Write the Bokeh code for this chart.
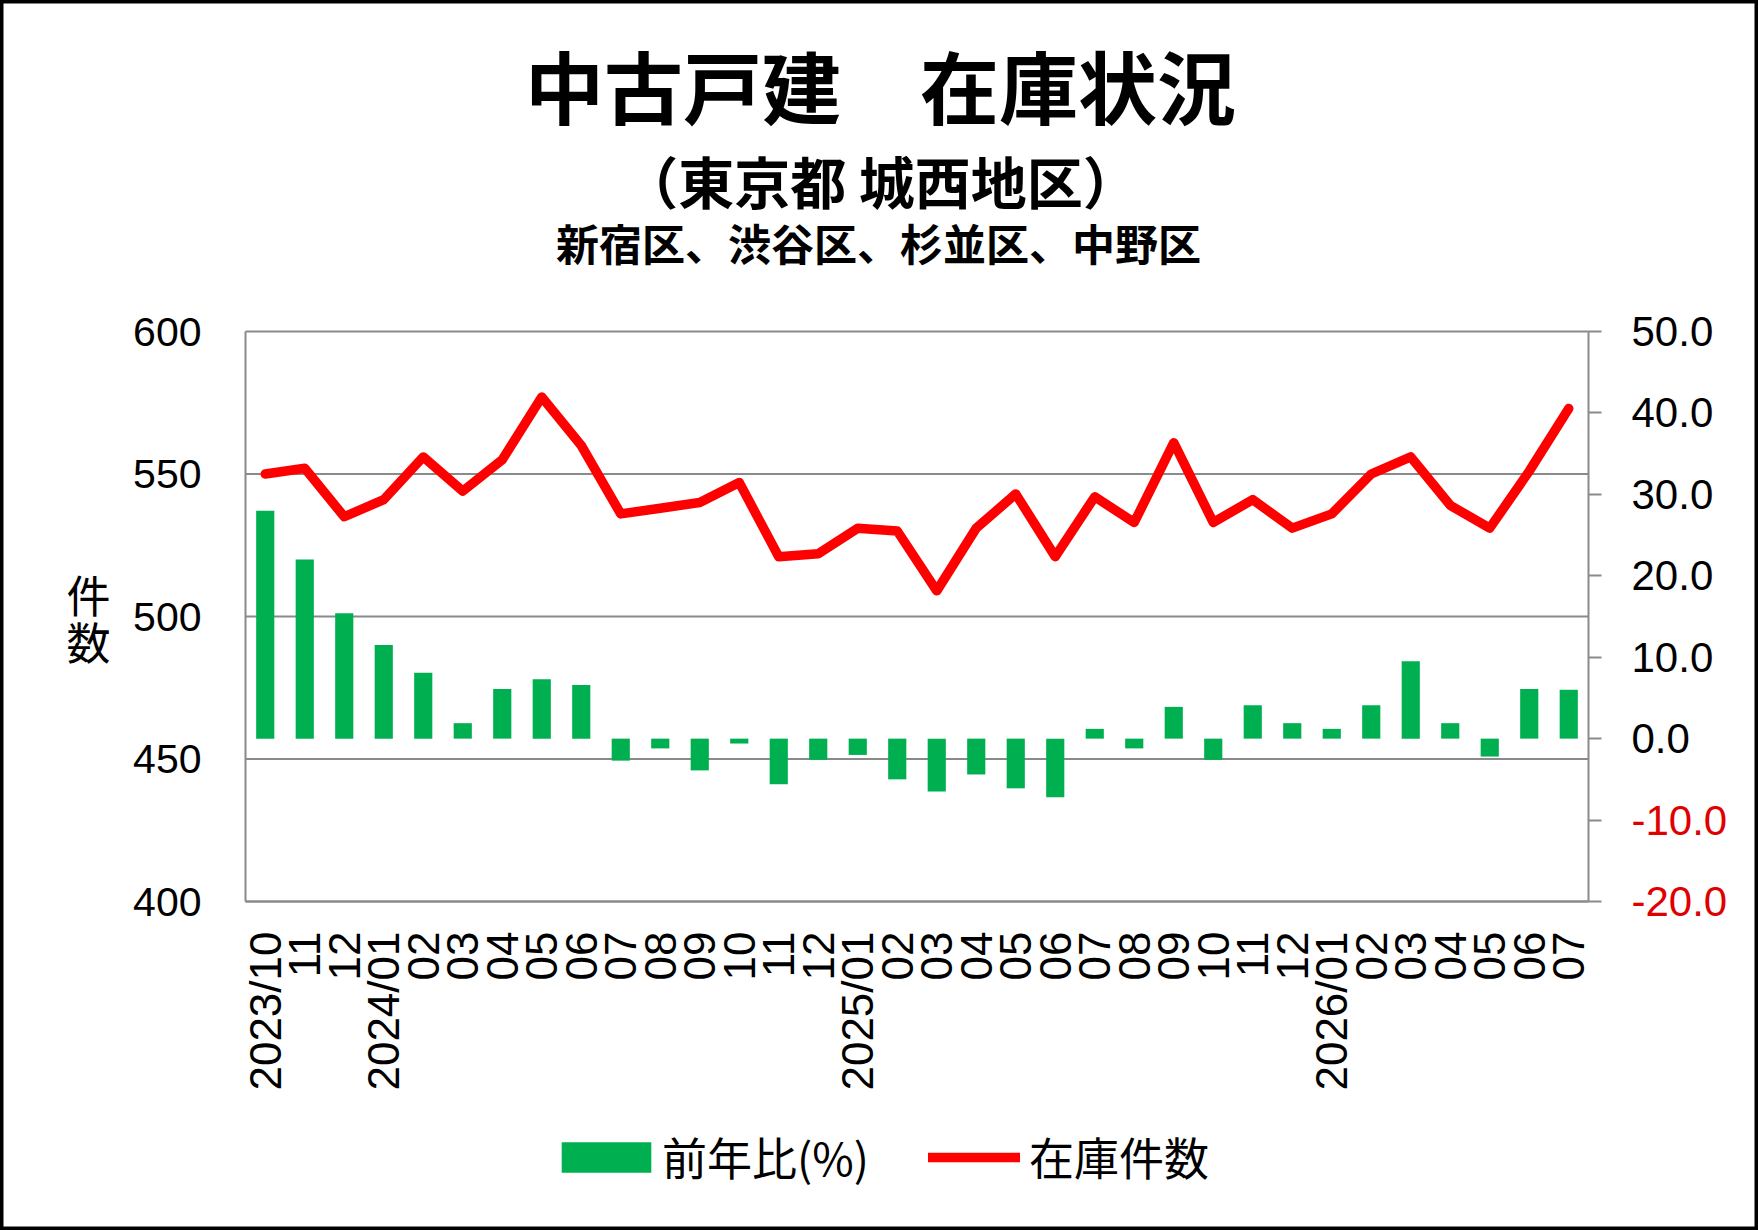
import math
from bokeh.plotting import figure
from bokeh.models import Range1d, LinearAxis, FixedTicker, Legend, LegendItem, Label
from bokeh.embed import file_html
from bokeh.resources import INLINE

# ---------------- data ----------------
months = ["2023/10", "11", "12",
          "2024/01", "02", "03", "04", "05", "06", "07", "08", "09", "10", "11", "12",
          "2025/01", "02", "03", "04", "05", "06", "07", "08", "09", "10", "11", "12",
          "2026/01", "02", "03", "04", "05", "06", "07"]
stock = [550, 552, 535, 541, 556, 544, 555, 577, 560, 536, 538, 540, 547, 521, 522,
         531, 530, 509, 531, 543, 521, 542, 533, 561, 533, 541, 531,
         536, 550, 556, 539, 531, 551, 573]
yoy = [28.0, 22.0, 15.4, 11.5, 8.1, 1.9, 6.1, 7.3, 6.6, -2.7, -1.2, -3.9, -0.6, -5.6, -2.6,
       -2.0, -5.0, -6.5, -4.4, -6.1, -7.2, 1.2, -1.2, 3.9, -2.6, 4.1, 1.9,
       1.2, 4.1, 9.5, 1.9, -2.2, 6.1, 6.0]
left_ticks = [400, 450, 500, 550, 600]
right_ticks = [-20, -10, 0, 10, 20, 30, 40, 50]
title_text = "中古戸建　在庫状況"
subtitle_text = "（東京都 城西地区）"
areas_text = "新宿区、渋谷区、杉並区、中野区"
y_label_text = "件\n数"
legend_bar_text = "前年比(%)"
legend_line_text = "在庫件数"

# ---------------- styles / layout ----------------
GRAY = "#8a8a8a"
GREEN = "#00b050"
RED = "#ff0000"
NEG_RED = "#e00000"
NUM_FONT = "Liberation Sans"
CJK_FONT = "Noto Sans CJK JP"

W, H = 1758, 1230
PLOT_L, PLOT_R, PLOT_T, PLOT_B = 245, 1588, 331, 901   # plot box on the canvas

n = len(months)
x = list(range(n))
xs, xe = -0.5, n - 0.5
ppx = (PLOT_R - PLOT_L) / (xe - xs)
x_range = Range1d(xs - PLOT_L / ppx, xe + (W - PLOT_R) / ppx)

ly0, ly1 = left_ticks[0], left_ticks[-1]
ppl = (PLOT_B - PLOT_T) / (ly1 - ly0)
y_range = Range1d(ly0 - (H - PLOT_B) / ppl, ly1 + PLOT_T / ppl)

ry0, ry1 = right_ticks[0], right_ticks[-1]
ppr = (PLOT_B - PLOT_T) / (ry1 - ry0)
right_range = Range1d(ry0 - (H - PLOT_B) / ppr, ry1 + PLOT_T / ppr)

p = figure(width=W, height=H, output_backend="svg", toolbar_location=None,
           x_range=x_range, y_range=y_range,
           min_border_left=0, min_border_right=0, min_border_top=0, min_border_bottom=0)
p.extra_y_ranges = {"right": right_range}
p.background_fill_color = "white"
p.border_fill_color = "white"
p.outline_line_color = "black"     # chart-area border at the canvas edge
p.outline_line_width = 6
p.grid.visible = False

# horizontal gridlines across the plot box (at the left-axis ticks)
p.segment(x0=[xs] * len(left_ticks), x1=[xe] * len(left_ticks),
          y0=left_ticks, y1=left_ticks, line_color=GRAY, line_width=2)

# left axis
ya = p.yaxis[0]
ya.fixed_location = xs
ya.bounds = (ly0, ly1)
ya.ticker = FixedTicker(ticks=left_ticks)
ya.axis_line_color = GRAY
ya.axis_line_width = 2
ya.major_tick_out = 0
ya.major_tick_in = 0
ya.minor_tick_out = 0
ya.minor_tick_in = 0
ya.major_label_standoff = 44
ya.major_label_text_font = NUM_FONT
ya.major_label_text_font_size = "41px"
ya.major_label_text_color = "black"

# bottom axis
xa = p.xaxis[0]
xa.fixed_location = ly0
xa.bounds = (xs, xe)
xa.ticker = FixedTicker(ticks=x)
xa.major_label_overrides = {i: m for i, m in enumerate(months)}
xa.major_label_orientation = math.pi / 2
xa.axis_line_color = GRAY
xa.axis_line_width = 2
xa.major_tick_out = 0
xa.major_tick_in = 0
xa.minor_tick_out = 0
xa.minor_tick_in = 0
xa.major_label_standoff = 30
xa.major_label_text_font = NUM_FONT
xa.major_label_text_font_size = "44px"
xa.major_label_text_color = "black"

# right axis (non-negative labels in black)
ra = LinearAxis(y_range_name="right", ticker=FixedTicker(ticks=right_ticks),
                fixed_location=xe, bounds=(ry0, ry1))
ra.major_label_overrides = {t: (f"{t:.1f}" if t >= 0 else "") for t in right_ticks}
ra.axis_line_color = GRAY
ra.axis_line_width = 2
ra.major_tick_line_color = GRAY
ra.major_tick_line_width = 2
ra.major_tick_out = 13
ra.major_tick_in = 0
ra.minor_tick_out = 0
ra.minor_tick_in = 0
ra.major_label_standoff = 30
ra.major_label_text_font = NUM_FONT
ra.major_label_text_font_size = "42px"
ra.major_label_text_color = "black"
p.add_layout(ra, "right")

# negative right-axis labels in red
for t in right_ticks:
    if t < 0:
        p.add_layout(Label(x=xe, y=t, x_units="data", y_units="data", y_range_name="right",
                           x_offset=13 + 30, text=f"{t:.1f}", text_color=NEG_RED,
                           text_align="left", text_baseline="middle",
                           text_font=NUM_FONT, text_font_size="42px"))

# glyphs
bars = p.vbar(x=x, top=yoy, bottom=0, width=0.46, y_range_name="right",
              fill_color=GREEN, line_color=None)
line = p.line(x, stock, line_color=RED, line_width=9.5, line_join="round", line_cap="round")

# titles (screen units: from canvas left / bottom)
p.add_layout(Label(x=880, y=H - 84, x_units="screen", y_units="screen", text=title_text,
                   text_align="center", text_baseline="middle", text_font=CJK_FONT,
                   text_font_style="bold", text_font_size="79px", text_color="black"))
p.add_layout(Label(x=880, y=H - 179, x_units="screen", y_units="screen", text=subtitle_text,
                   text_align="center", text_baseline="middle", text_font=CJK_FONT,
                   text_font_style="bold", text_font_size="56px", text_color="black"))
p.add_layout(Label(x=878, y=H - 241, x_units="screen", y_units="screen", text=areas_text,
                   text_align="center", text_baseline="middle", text_font=CJK_FONT,
                   text_font_style="bold", text_font_size="43px", text_color="black"))

# y axis label (stacked characters)
p.add_layout(Label(x=88, y=H - 617, x_units="screen", y_units="screen", text=y_label_text,
                   text_align="center", text_baseline="middle", text_font=CJK_FONT,
                   text_font_size="44px", text_line_height=0.72, text_color="black"))

# legends
leg_a = Legend(items=[LegendItem(label=legend_bar_text, renderers=[bars])],
               location=(550, 41), orientation="horizontal", glyph_width=112,
               glyph_height=38, label_standoff=0, padding=0, margin=0,
               border_line_color=None, background_fill_alpha=0,
               label_text_font=CJK_FONT, label_text_font_size="45px",
               label_text_color="black")
leg_b = Legend(items=[LegendItem(label=legend_line_text, renderers=[line])],
               location=(928, 41), orientation="horizontal", glyph_width=92,
               glyph_height=38, label_standoff=9, padding=0, margin=0,
               border_line_color=None, background_fill_alpha=0,
               label_text_font=CJK_FONT, label_text_font_size="45px",
               label_text_color="black")
p.add_layout(leg_a)
p.add_layout(leg_b)

open("out.html", "w").write(file_html(p, INLINE))
